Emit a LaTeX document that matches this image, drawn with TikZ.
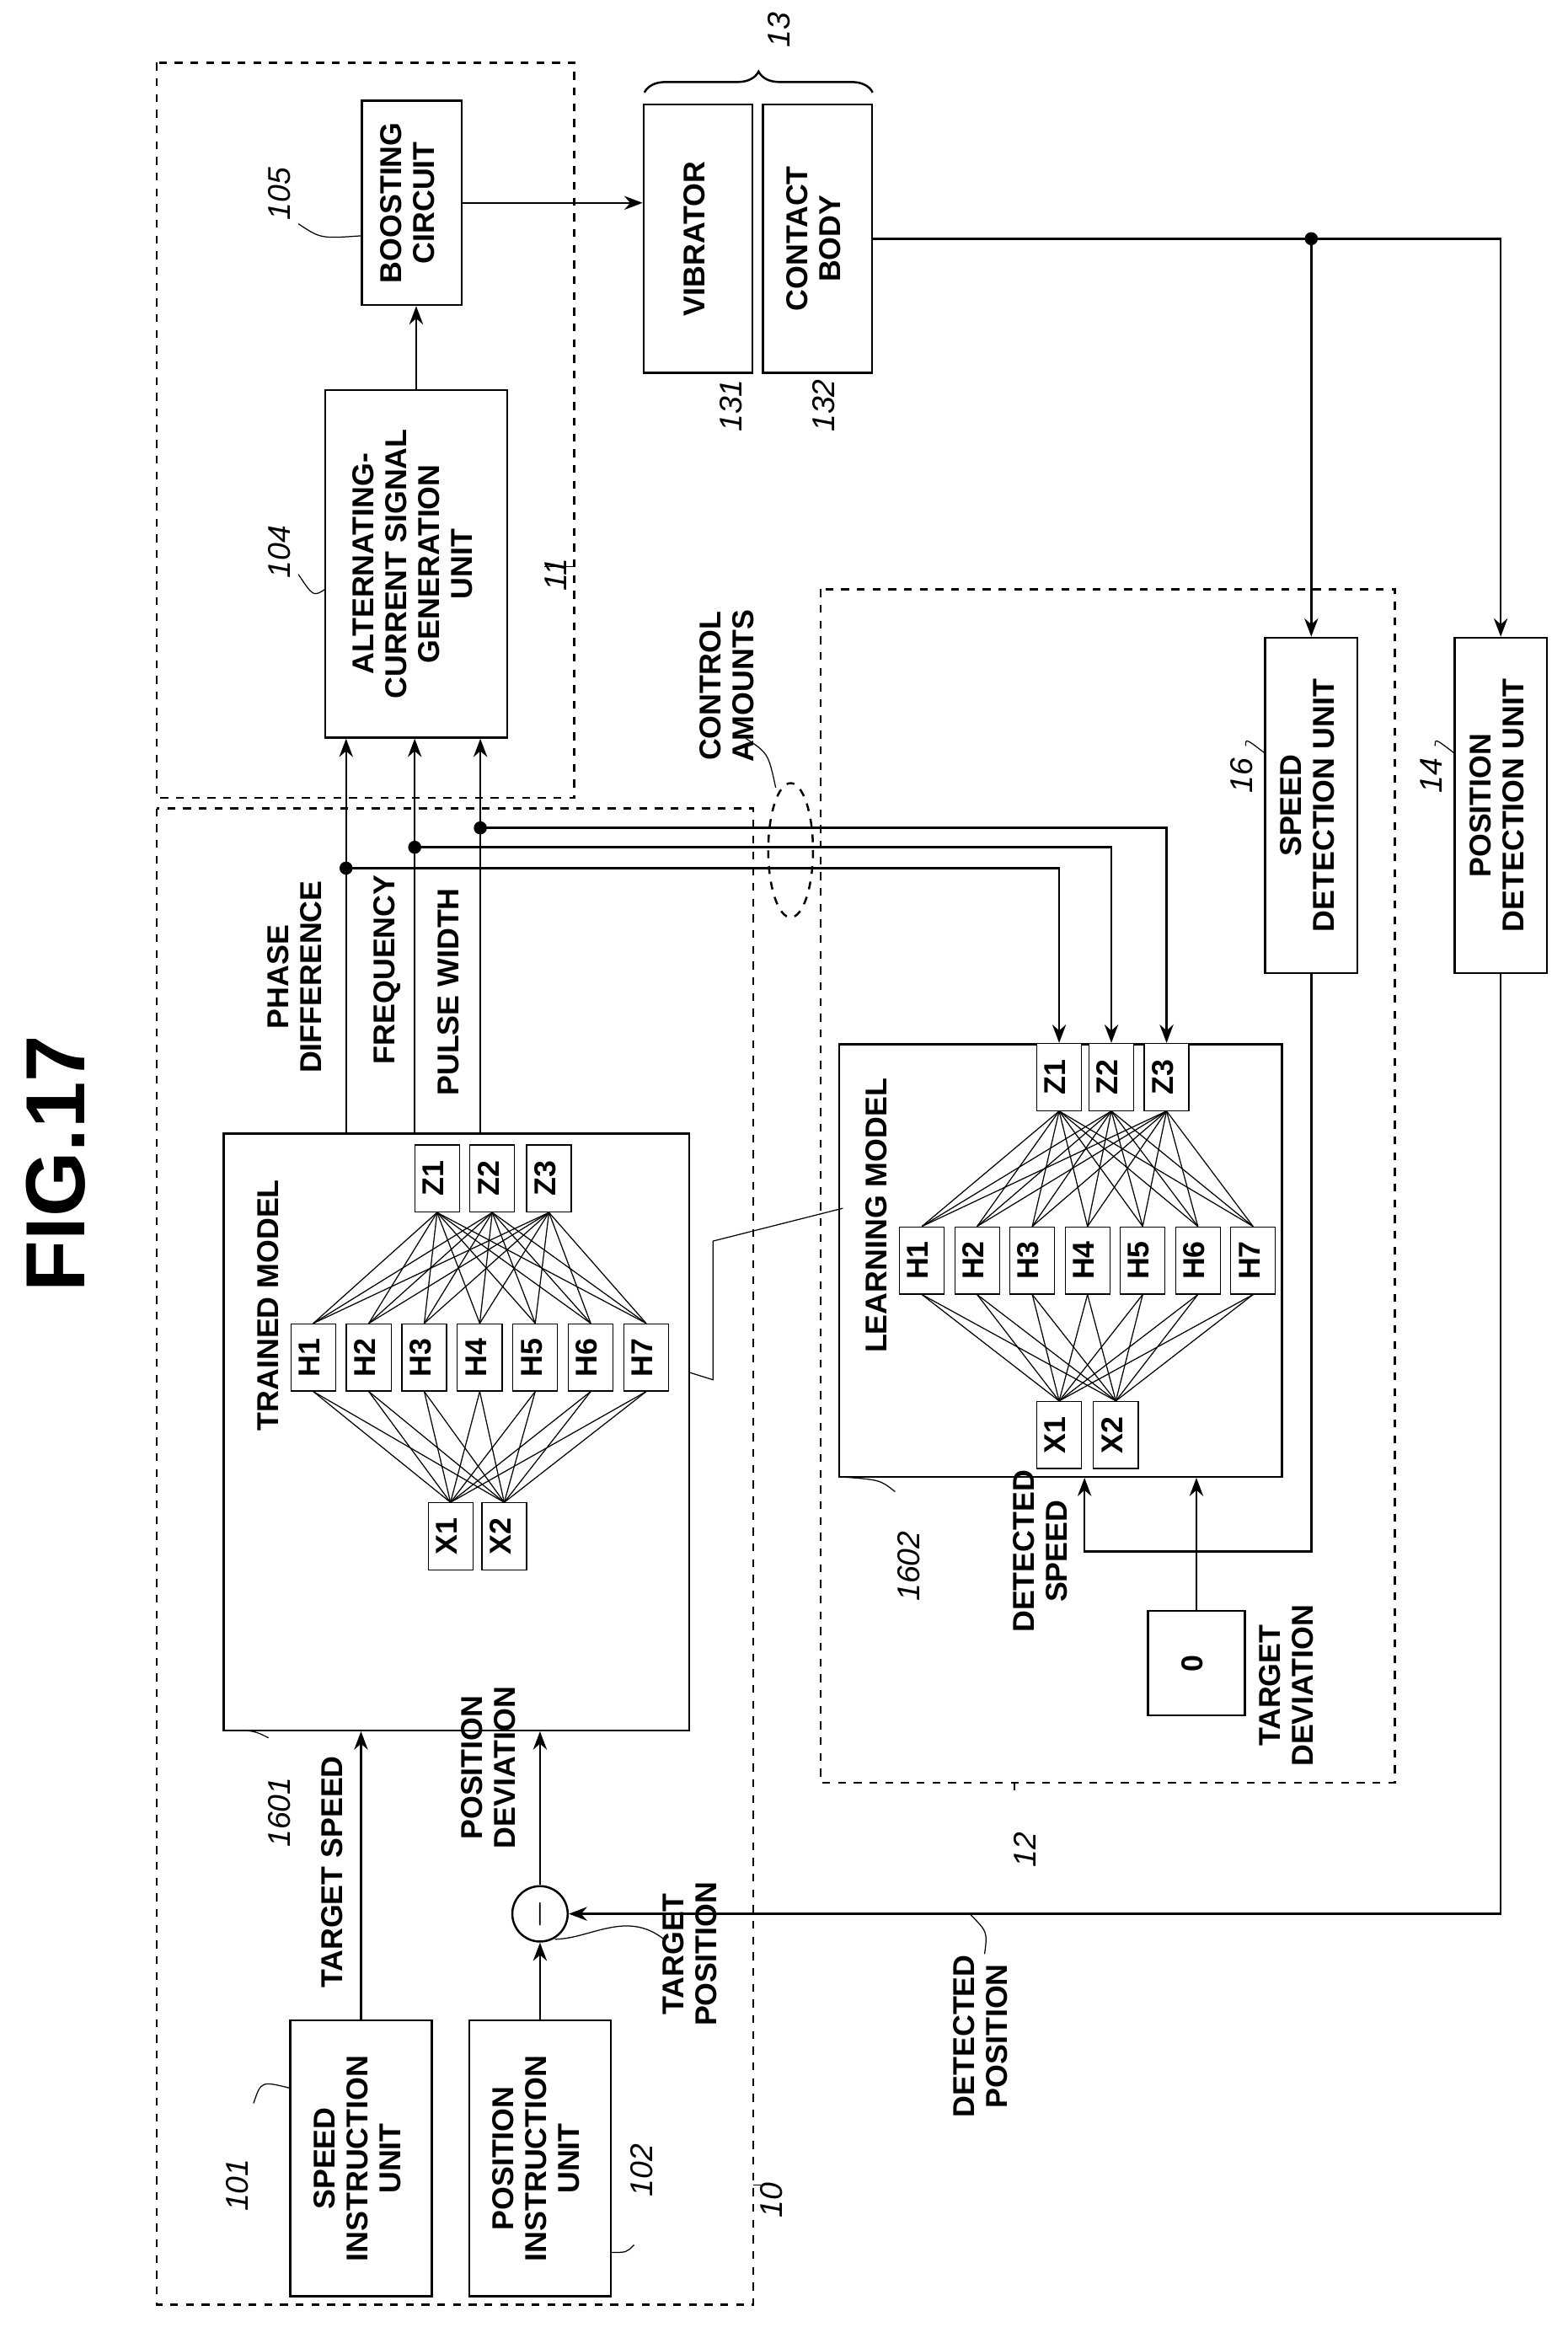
\documentclass[tikz,border=0pt]{standalone}
\usepackage{fontspec}
\setmainfont{Liberation Sans}
\usetikzlibrary{arrows.meta, positioning, decorations.pathreplacing}
\newcommand{\rt}[1]{\rotatebox{90}{\begin{tabular}{@{}c@{}}#1\end{tabular}}}

\tikzset{
    blk/.style={draw, thick, rectangle, inner sep=0pt, fill=white},
    neu/.style={draw, rectangle, inner sep=0pt, minimum width=0.6cm, minimum height=0.9cm, fill=white},
    lbl/.style={inner sep=1pt, align=center},
    num/.style={inner sep=1pt, font=\fontsize{12}{13}\selectfont\itshape},
    dbox/.style={draw, dashed, thick},
    arr/.style={thick, -{Stealth[length=7pt]}},
    dot/.style={circle, fill, inner sep=0pt, minimum size=5pt},
}

\begin{document}
\begin{tikzpicture}[x=0.02cm, y=-0.02cm, font=\fontsize{11.5}{12.5}\selectfont\bfseries]
    \useasboundingbox (0,0) rectangle (1051,1560);

    % Title
    \node[font=\fontsize{32}{34}\selectfont\bfseries] (title) at (45,780) {\rt{FIG.17}};

    % Dashed outlines
    \draw[dbox] (105,42) rectangle (385,535);
    \draw[dbox] (105,542) rectangle (505,1545);
    \draw[dbox] (550,395) rectangle (935,1195);

    % Drive unit blocks
    \node[blk, minimum width=1.34cm, minimum height=2.74cm] (b105) at (276,136) {\rt{BOOSTING\\CIRCUIT}};
    \node[blk, minimum width=2.44cm, minimum height=4.66cm] (b104) at (279,378) {\rt{ALTERNATING-\\CURRENT SIGNAL\\GENERATION\\UNIT}};
    \node[blk, minimum width=1.46cm, minimum height=3.6cm] (vib) at (468,160) {\rt{VIBRATOR}};
    \node[blk, minimum width=1.46cm, minimum height=3.6cm] (cb) at (548,160) {\rt{CONTACT\\BODY}};
    \draw[thick, decorate, decoration={brace, amplitude=8pt}] (432,62) -- (585,62);

    % Detection units
    \node[blk, minimum width=1.24cm, minimum height=4.5cm] (sdu) at (879,540) {\rt{SPEED\\DETECTION UNIT}};
    \node[blk, minimum width=1.24cm, minimum height=4.5cm] (pdu) at (1006,540) {\rt{POSITION\\DETECTION UNIT}};

    % Instruction units
    \node[blk, minimum width=1.9cm, minimum height=3.7cm] (b101) at (242,1447) {\rt{SPEED\\INSTRUCTION\\UNIT}};
    \node[blk, minimum width=1.9cm, minimum height=3.7cm] (b102) at (362,1447) {\rt{POSITION\\INSTRUCTION\\UNIT}};
    \node[draw, thick, circle, minimum size=0.62cm, inner sep=0pt, font=\Large\bfseries] (sub) at (362,1283) {\rt{$-$}};
    \node[blk, minimum width=1.3cm, minimum height=1.4cm] (zero) at (802,1115) {\rt{0}};

    % Trained model
    \node[blk, minimum width=6.24cm, minimum height=8cm] (tm) at (306,960) {};
    \node[lbl] (tmlbl) at (182,875) {\rt{TRAINED MODEL}};
    \foreach \x [count=\i] in {293,330,368}
        \node[neu] (tZ\i) at (\x,790) {\rt{Z\i}};
    \foreach \i in {1,...,7}
        \node[neu] (tH\i) at ({210+37.2*(\i-1)},910) {\rt{H\i}};
    \foreach \x [count=\i] in {302,338}
        \node[neu] (tX\i) at (\x,1030) {\rt{X\i}};
    \foreach \i in {1,...,7} {
        \foreach \j in {1,2,3} \draw (tH\i.north) -- (tZ\j.south);
        \foreach \j in {1,2} \draw (tX\j.north) -- (tH\i.south);
    }

    % Learning model
    \node[blk, minimum width=5.94cm, minimum height=5.8cm] (lm) at (711,845) {};
    \node[lbl] (lmlbl) at (590,815) {\rt{LEARNING MODEL}};
    \foreach \x [count=\i] in {710,745,782}
        \node[neu] (lZ\i) at (\x,722) {\rt{Z\i}};
    \foreach \i in {1,...,7}
        \node[neu] (lH\i) at ({618+37*(\i-1)},845) {\rt{H\i}};
    \foreach \x [count=\i] in {710,748}
        \node[neu] (lX\i) at (\x,962) {\rt{X\i}};
    \foreach \i in {1,...,7} {
        \foreach \j in {1,2,3} \draw (lH\i.north) -- (lZ\j.south);
        \foreach \j in {1,2} \draw (lX\j.north) -- (lH\i.south);
    }

    % Drive path
    \draw[arr] (b104.north) -- (b104.north |- b105.south);
    \draw[arr] (b105.east) -- (b105.east -| vib.west);
    \coordinate (j1) at (sdu.north |- cb.east);
    \draw[arr] (cb.east) -- (cb.east -| pdu.north) -- (pdu.north);
    \node[dot] (j1dot) at (j1) {};
    \draw[arr] (j1) -- (sdu.north);

    % Control amounts
    \coordinate (c1) at (232,582);
    \coordinate (c2) at (278,568);
    \coordinate (c3) at (322,555);
    \foreach \k in {1,2,3} {
        \draw[arr] (tm.north -| c\k) -- (b104.south -| c\k);
        \node[dot] at (c\k) {};
        \draw[arr] (c\k) -- (c\k -| lZ\k) -- (lZ\k.north);
    }
    \draw[dashed, thick] (530,570) ellipse (15 and 45);
    \draw (520,528) .. controls (515,505) .. (500,495);

    % Inputs
    \draw[arr] (b101.north) -- (b101.north |- tm.south);
    \draw[arr] (b102.north) -- (sub.south);
    \draw[arr] (sub.north) -- (sub.north |- tm.south);
    \draw[arr] (pdu.south) |- (sub.east);
    \coordinate (ds) at (727,1040);
    \draw[arr] (sdu.south) |- (ds) -- (ds |- lm.south);
    \draw[arr] (zero.north) -- (zero.north |- lm.south);

    % Leader between models
    \draw (462,920) -- (478,925) -- (478,832) -- (565,810);

    % Signal labels
    \node[lbl] at (200,655) {\rt{PHASE\\DIFFERENCE}};
    \node[lbl] at (260,650) {\rt{FREQUENCY}};
    \node[lbl] at (303,665) {\rt{PULSE WIDTH}};
    \node[lbl] at (225,1255) {\rt{TARGET SPEED}};
    \node[lbl] at (330,1185) {\rt{POSITION\\DEVIATION}};
    \node[lbl] at (465,1310) {\rt{TARGET\\POSITION}};
    \draw (445,1300) .. controls (420,1280) and (395,1300) .. (372,1300);
    \node[lbl] at (660,1365) {\rt{DETECTED\\POSITION}};
    \draw (660,1310) .. controls (662,1295) .. (650,1283);
    \node[lbl] at (700,1040) {\rt{DETECTED\\SPEED}};
    \node[lbl] at (865,1130) {\rt{TARGET\\DEVIATION}};
    \node[lbl] at (490,460) {\rt{CONTROL\\AMOUNTS}};

    % Reference numbers
    \node[num] (n105) at (190,130) {\rt{105}};
    \draw (200,150) .. controls (215,160) .. (243,158);
    \node[num] (n104) at (190,370) {\rt{104}};
    \draw (200,385) .. controls (210,400) .. (218,395);
    \node[num] (n11) at (375,385) {\rt{11}};
    \draw (365,380) -- (385,380);
    \node[num] (n13) at (525,20) {\rt{13}};
    \node[num] (n131) at (493,272) {\rt{131}};
    \node[num] (n132) at (555,272) {\rt{132}};
    \node[num] (n16) at (835,520) {\rt{16}};
    \draw (848,505) .. controls (835,495) .. (835,500);
    \node[num] (n14) at (962,520) {\rt{14}};
    \draw (975,505) .. controls (962,495) .. (962,500);
    \node[num] (n1601) at (190,1215) {\rt{1601}};
    \draw (180,1165) .. controls (170,1160) .. (150,1160);
    \node[num] (n1602) at (612,1050) {\rt{1602}};
    \draw (600,1000) .. controls (590,992) .. (563,990);
    \node[num] (n12) at (690,1240) {\rt{12}};
    \draw (680,1200) -- (680,1195);
    \node[num] (n10) at (520,1475) {\rt{10}};
    \draw (510,1465) -- (505,1465);
    \node[num] (n101) at (162,1465) {\rt{101}};
    \draw (170,1410) .. controls (175,1395) .. (195,1400);
    \node[num] (n102) at (433,1455) {\rt{102}};
    \draw (425,1505) .. controls (420,1510) .. (410,1510);
\end{tikzpicture}
\end{document}
